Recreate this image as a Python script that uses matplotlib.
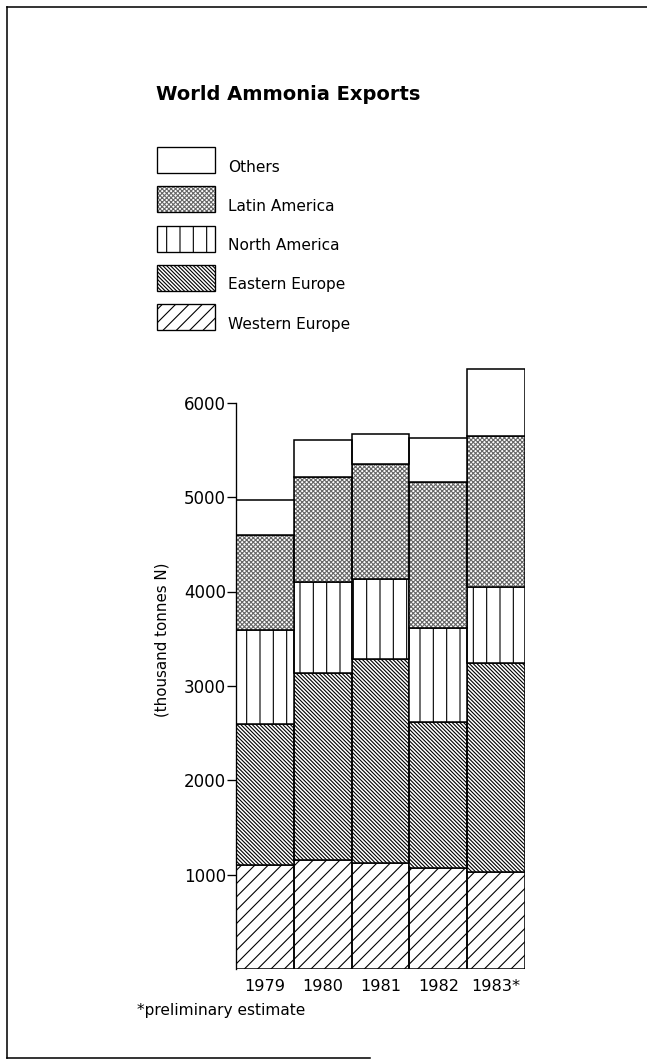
import numpy as np
import matplotlib
matplotlib.use('Agg')
import matplotlib.pyplot as plt
from matplotlib.patches import Rectangle
from matplotlib.lines import Line2D

# data (thousand tonnes N)
years = ['1979', '1980', '1981', '1982', '1983*']
western_europe = [1100, 1150, 1120, 1070, 1030]
eastern_europe = [1500, 1990, 2170, 1550, 2210]
north_america = [990, 960, 840, 990, 810]
latin_america = [1010, 1110, 1220, 1550, 1600]
others = [370, 400, 320, 470, 710]

series = [
    ('Western Europe', western_europe),
    ('Eastern Europe', eastern_europe),
    ('North America', north_america),
    ('Latin America', latin_america),
    ('Others', others),
]
# hatch pattern and hatch colour per series
styles = {
    'Western Europe': ('//', 'black'),
    'Eastern Europe': ('\\' * 7, 'black'),
    'North America': ('|', 'black'),
    'Latin America': ('x' * 6, '#666666'),
    'Others': ('', 'black'),
}

W, H, DPI = 647, 1060, 80
plt.rcParams['font.family'] = ['DejaVu Sans']
plt.rcParams['hatch.linewidth'] = 1.0

fig = plt.figure(figsize=(W / DPI, H / DPI), dpi=DPI)


def fx(px):
    return px / W


def fy(py):
    return 1 - py / H


# page frame (left, top, bottom lines)
fig.add_artist(Line2D([fx(7), fx(7)], [fy(7), fy(1058)], color='black', lw=1.4))
fig.add_artist(Line2D([fx(7), fx(647)], [fy(7), fy(7)], color='black', lw=1.4))
fig.add_artist(Line2D([fx(7), fx(370)], [fy(1058), fy(1058)], color='black', lw=1.4))

fig.text(fx(156), fy(94), 'World Ammonia Exports', fontsize=17.6,
         fontweight='bold', va='center', ha='left')

# main axes: x from 236 to 525 px, y zero at 969 px, 6400 at ~365 px
ymax = 6400
ax = fig.add_axes([fx(236), fy(969), fx(525) - fx(236), (969 - 365) / H])
x = np.arange(len(years))
bottom = np.zeros(len(years))
for name, vals in series:
    hatch, hcol = styles[name]
    ax.bar(x, vals, width=1.0, bottom=bottom, color='white',
           edgecolor=hcol, linewidth=0, hatch=hatch)
    ax.bar(x, vals, width=1.0, bottom=bottom, fill=False,
           edgecolor='black', linewidth=1.4)
    bottom += np.array(vals)

ax.set_xlim(-0.5, 4.5)
ax.set_ylim(0, ymax)
ax.set_yticks([1000, 2000, 3000, 4000, 5000, 6000])
ax.tick_params(axis='y', direction='out', length=8, width=1.2, pad=1,
               labelsize=15)
ax.set_xticks(x)
ax.set_xticklabels(years, fontsize=14.5)
ax.tick_params(axis='x', length=0, pad=9)
for s in ['top', 'right', 'bottom']:
    ax.spines[s].set_visible(False)
ax.spines['left'].set_bounds(0, 6000)
ax.spines['left'].set_linewidth(1.2)
ax.patch.set_alpha(0)

fig.text(fx(162), fy(640), '(thousand tonnes N)', rotation=90,
         fontsize=13.5, ha='center', va='center')
fig.text(fx(137), fy(1010), '*preliminary estimate', fontsize=13.8,
         ha='left', va='center')

# legend, drawn by hand: boxes 58x26 px, rows 39 px apart
lax = fig.add_axes([0, 0, 1, 1])
lax.set_xlim(0, W)
lax.set_ylim(H, 0)
lax.axis('off')
for i, (name, vals) in enumerate(series[::-1]):
    cy = 160 + 39.3 * i
    hatch, hcol = styles[name]
    lax.add_patch(Rectangle((157, cy - 13), 58, 26, facecolor='white',
                            edgecolor=hcol, linewidth=0, hatch=hatch))
    lax.add_patch(Rectangle((157, cy - 13), 58, 26, fill=False,
                            edgecolor='black', linewidth=1.2))
    lax.text(228, cy + 7, name, fontsize=13.8, va='center', ha='left')

fig.savefig('out.png', dpi=DPI)
